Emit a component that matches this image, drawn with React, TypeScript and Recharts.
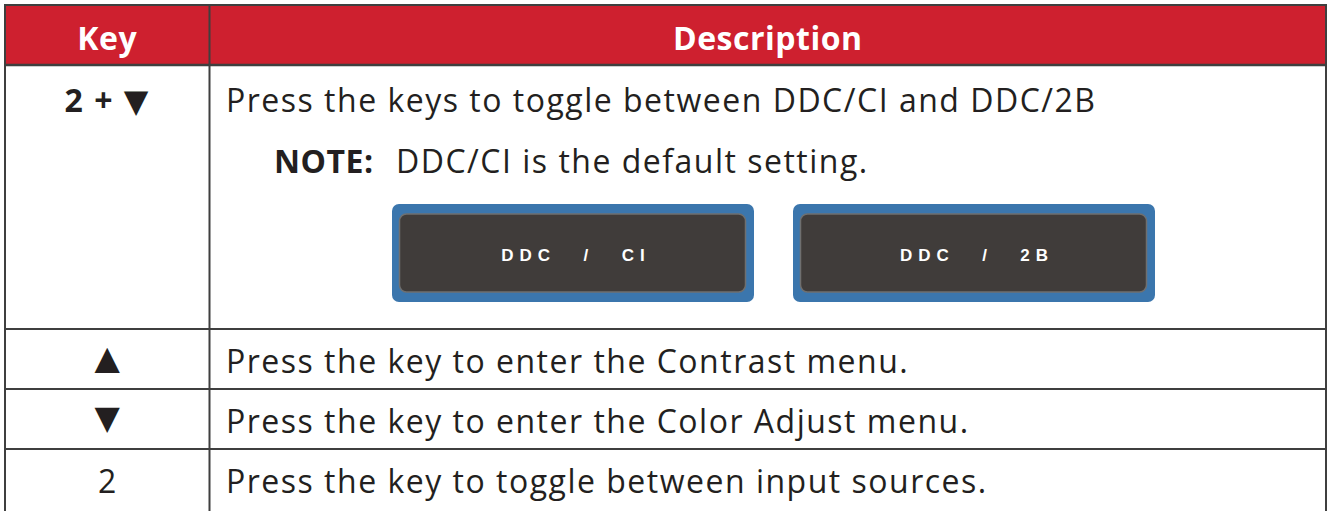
import { Surface, Layer, Rectangle } from "recharts";

// table content
const headers = ["Key", "Description"];
const keyLabels = ["2 + ▼", "▲", "▼", "2"];
const keyBold = [true, false, false, false];
const descriptions = [
  "Press the keys to toggle between DDC/CI and DDC/2B",
  "Press the key to enter the Contrast menu.",
  "Press the key to enter the Color Adjust menu.",
  "Press the key to toggle between input sources.",
];
const noteLabel = "NOTE:";
const noteText = "DDC/CI is the default setting.";
const osdButtons = ["DDC  /  CI", "DDC  /  2B"];

// layout
const W = 1328;
const H = 511;
const LEFT = 5;
const MID = 209.5;
const RIGHT = 1326;
const rowLines = [5, 65, 329, 389, 449, 520];
const TEXT_X = 226;
const NOTE_Y = 173;
const BOX_X = 392;
const BOX_Y = 204;
const BOX_W = 362;
const BOX_H = 98;
const BOX_GAP = 39;

const RED = "#ce202f";
const LINE = "#3f3f3f";
const INK = "#231f20";
const FONT = "'Open Sans', 'DejaVu Sans', sans-serif";

function baselineFor(i: number) {
  return i === 0 ? 112 : rowLines[i + 1] + 44;
}

// lone arrow glyphs sit a little higher than the text baseline
const isArrow = (k: string) => k === "▲" || k === "▼";

export default function App() {
  const keyCx = (LEFT + MID) / 2;
  const descCx = (MID + RIGHT) / 2;
  return (
    <div style={{ position: "absolute", left: 0, top: 0, width: W, height: H, background: "#fff" }}>
      <Surface width={W} height={H} viewBox={{ x: 0, y: 0, width: W, height: H }}>
        {/* header band */}
        <Rectangle x={LEFT} y={rowLines[0]} width={RIGHT - LEFT} height={rowLines[1] - rowLines[0]} fill={RED} />
        <Layer>
          {headers.map((h, i) => (
            <text
              key={h}
              x={i === 0 ? keyCx : descCx}
              y={50}
              textAnchor="middle"
              fill="#fff"
              fontFamily={FONT}
              fontWeight={700}
              fontSize={32}
              letterSpacing={0.5}
            >
              {h}
            </text>
          ))}
        </Layer>

        {/* body rows */}
        <Layer>
          {keyLabels.map((k, i) => (
            <text
              key={`k${i}`}
              x={keyCx}
              y={baselineFor(i) - (isArrow(k) ? 4 : 0)}
              textAnchor="middle"
              fill={INK}
              fontFamily={FONT}
              fontWeight={keyBold[i] ? 700 : 400}
              fontSize={isArrow(k) ? 33 : 32}
              letterSpacing={keyBold[i] ? 1.5 : 0}
            >
              {k}
            </text>
          ))}
          {descriptions.map((d, i) => (
            <text
              key={`d${i}`}
              x={TEXT_X}
              y={baselineFor(i)}
              fill={INK}
              fontFamily={FONT}
              fontSize={32}
              letterSpacing={1.5}
            >
              {d}
            </text>
          ))}
          <text x={274} y={NOTE_Y} fill={INK} fontFamily={FONT} fontSize={32}>
            <tspan fontWeight={700} letterSpacing={0.5}>
              {noteLabel}
            </tspan>
            <tspan x={396} letterSpacing={1.5}>
              {noteText}
            </tspan>
          </text>
        </Layer>

        {/* OSD buttons */}
        <Layer>
          {osdButtons.map((b, i) => {
            const x = BOX_X + i * (BOX_W + BOX_GAP);
            return (
              <Layer key={`b${i}`}>
                <Rectangle x={x} y={BOX_Y} width={BOX_W} height={BOX_H} radius={7} fill="#3b76ad" />
                <Rectangle
                  x={x + 7.5}
                  y={BOX_Y + 10}
                  width={BOX_W - 16}
                  height={BOX_H - 20}
                  radius={7}
                  fill="#403c3a"
                  stroke="#6f6f6f"
                  strokeWidth={1.5}
                />
                <text
                  x={x + BOX_W / 2 + 3}
                  y={BOX_Y + 57}
                  textAnchor="middle"
                  fill="#fff"
                  fontFamily="'Liberation Sans', Arial, sans-serif"
                  fontWeight={700}
                  fontSize={17}
                  letterSpacing={6}
                  wordSpacing={3}
                  style={{ whiteSpace: "pre" }}
                >
                  {b}
                </text>
              </Layer>
            );
          })}
        </Layer>

        {/* grid lines */}
        <Layer stroke={LINE} strokeWidth={2}>
          {rowLines.slice(0, 5).map((y, i) => (
            <line key={`h${i}`} x1={LEFT - 1} x2={RIGHT + 1} y1={y} y2={y} strokeWidth={i === 1 ? 2.5 : 2} />
          ))}
          <line x1={LEFT} x2={LEFT} y1={rowLines[0]} y2={H} />
          <line x1={MID} x2={MID} y1={rowLines[0]} y2={H} />
          <line x1={RIGHT} x2={RIGHT} y1={rowLines[0]} y2={H} />
        </Layer>
      </Surface>
    </div>
  );
}
